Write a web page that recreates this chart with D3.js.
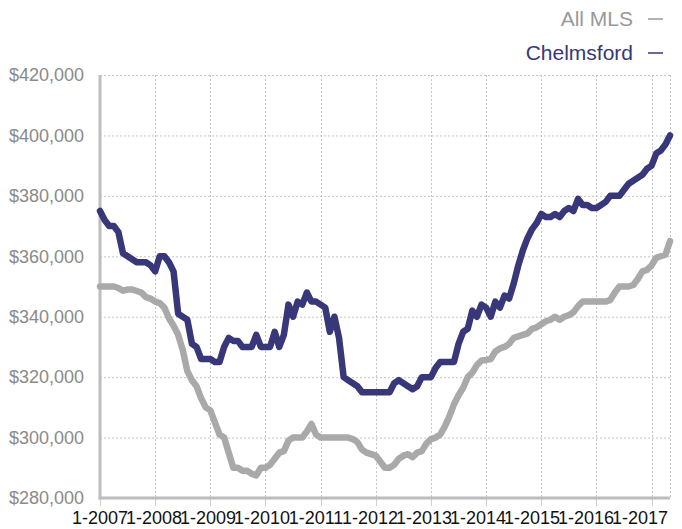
<!DOCTYPE html>
<html>
<head>
<meta charset="utf-8">
<script src="https://cdn.jsdelivr.net/npm/d3@7"></script>
<style>
  body { margin: 0; background: #fff; }
  svg { display: block; font-family: "Liberation Sans", Arial, sans-serif; }
</style>
</head>
<body>
<div id="chart"></div>
<script>
// Monthly median price (thousands of $), Jan 2007 .. May 2017
const chelmsford = [
  375, 372, 370, 370, 368, 361, 360, 359, 358, 358, 358, 357,
  355, 360, 360, 358, 355, 341, 340, 339, 331, 330, 326, 326,
  326, 325, 325, 330, 333, 332, 332, 330, 330, 330, 334, 330,
  330, 330, 335, 330, 334, 344, 340, 345, 344, 348, 345, 345,
  344, 343, 335, 340, 333, 320, 319, 318, 317, 315, 315, 315,
  315, 315, 315, 315, 318, 319, 318, 317, 316, 317, 320, 320,
  320, 323, 325, 325, 325, 325, 331, 335, 336, 342, 340, 344,
  343, 340, 345, 343, 347, 346, 351, 357, 362, 366, 369, 371,
  374, 373, 373, 374, 373, 375, 376, 375, 379, 377, 377, 376,
  376, 377, 378, 380, 380, 380, 382, 384, 385, 386, 387, 389,
  390, 394, 395, 397, 400
];
const allMls = [
  350, 350, 350, 350, 349.5, 348.6, 349, 349, 348.5, 348, 346.5, 346,
  345, 344.5, 343, 339.5, 337, 334, 329, 322, 319, 317, 313, 310,
  309, 305, 301, 300, 295, 290, 290, 289, 289, 288, 287.5, 290,
  290, 291, 293, 295, 295.5, 299, 300, 300, 300, 302, 304.5, 301,
  300, 300, 300, 300, 300, 300, 300, 299.5, 298.5, 296, 295, 294.5,
  294, 292, 290, 290, 291, 293, 294, 294.5, 293.5, 295, 295.5, 298,
  299.5, 300, 301, 303.6, 307, 311, 314, 316.5, 320, 321.5, 324, 325.5,
  325.7, 326, 328.5, 329.5, 330, 331, 333, 333.5, 334, 334.5, 336, 336.5,
  337.5, 338.5, 339, 340, 339, 340, 340.5, 341.5, 343.5, 345, 345, 345,
  345, 345, 345, 345.5, 348, 350, 350, 350, 350.5, 352.5, 355, 355.5,
  357, 359.5, 360, 360.5, 365
];
const tickLabels = ["1-2007", "1-2008", "1-2009", "1-2010", "1-2011", "1-2012",
  "1-2013", "1-2014", "1-2015", "1-2016", "1-2017"];
const yTicks = [280, 300, 320, 340, 360, 380, 400, 420];
const seriesNames = ["All MLS", "Chelmsford"];
const seriesColors = ["#a9a9a9", "#37377a"];

const W = 682, H = 529;
const LEFT = 100, RIGHT = 670, TOP = 75, BOTTOM = 498;

const svg = d3.select("#chart").append("svg")
  .attr("width", W)
  .attr("height", H);

const x = d3.scaleLinear().domain([0, chelmsford.length - 1]).range([LEFT, RIGHT]);
const y = d3.scaleLinear().domain([280, 420]).range([BOTTOM, TOP]);
const yearTicks = tickLabels.map((d, i) => i * 12);
// labels sit a little tighter than the gridlines in the original
const xLabel = d3.scalePoint().domain(tickLabels).range([LEFT, 640]);

// grid
const grid = svg.append("g").attr("stroke", "#c4c4c4").attr("stroke-width", 1)
  .attr("stroke-dasharray", "2,2");
grid.selectAll(".hg").data(yTicks).enter().append("line")
  .attr("x1", LEFT).attr("x2", RIGHT)
  .attr("y1", d => y(d) + 0.5).attr("y2", d => y(d) + 0.5);
grid.selectAll(".vg").data(yearTicks.concat([chelmsford.length - 1])).enter().append("line")
  .attr("x1", d => Math.round(x(d)) + 0.5).attr("x2", d => Math.round(x(d)) + 0.5)
  .attr("y1", TOP).attr("y2", BOTTOM);

// tick marks below x axis
svg.append("g").selectAll("line").data(yearTicks).enter().append("line")
  .attr("x1", d => Math.round(x(d)) + 0.5).attr("x2", d => Math.round(x(d)) + 0.5)
  .attr("y1", BOTTOM).attr("y2", BOTTOM + 8)
  .attr("stroke", "#cfcfcf").attr("stroke-width", 1);

// axis lines
svg.append("line").attr("x1", LEFT).attr("x2", LEFT).attr("y1", TOP).attr("y2", BOTTOM + 1.5)
  .attr("stroke", "#bdbdbd").attr("stroke-width", 3);
svg.append("line").attr("x1", LEFT - 1.5).attr("x2", RIGHT).attr("y1", BOTTOM).attr("y2", BOTTOM)
  .attr("stroke", "#bdbdbd").attr("stroke-width", 3);

// y labels
const fmt = d3.format("$,");
svg.append("g").selectAll("text").data(yTicks).enter().append("text")
  .attr("x", 84)
  .attr("y", d => y(d))
  .attr("dy", "0.35em")
  .attr("text-anchor", "end")
  .attr("font-size", "18px")
  .attr("fill", "#8a8a8a")
  .text(d => fmt(d * 1000));

// x labels
svg.append("g").selectAll("text").data(tickLabels).enter().append("text")
  .attr("x", d => xLabel(d))
  .attr("y", 524)
  .attr("text-anchor", "middle")
  .attr("font-size", "18px")
  .attr("fill", "#111")
  .text(d => d);

// lines
const line = d3.line()
  .x((d, i) => x(i))
  .y(d => y(d))
  .curve(d3.curveLinear);

[allMls, chelmsford].forEach((series, i) => {
  svg.append("path")
    .datum(series)
    .attr("fill", "none")
    .attr("stroke", seriesColors[i])
    .attr("stroke-width", 6.5)
    .attr("stroke-linejoin", "round")
    .attr("stroke-linecap", "round")
    .attr("d", line);
});

// legend
const legend = svg.append("g");
seriesNames.forEach((name, i) => {
  const ly = 26 + i * 34;
  legend.append("text")
    .attr("x", 633)
    .attr("y", ly)
    .attr("text-anchor", "end")
    .attr("font-size", "21px")
    .attr("fill", i === 0 ? "#999" : seriesColors[1])
    .text(name);
  legend.append("line")
    .attr("x1", 648).attr("x2", 663)
    .attr("y1", ly - 7).attr("y2", ly - 7)
    .attr("stroke", i === 0 ? "#999" : seriesColors[1])
    .attr("stroke-width", 1.5);
});
</script>
</body>
</html>
